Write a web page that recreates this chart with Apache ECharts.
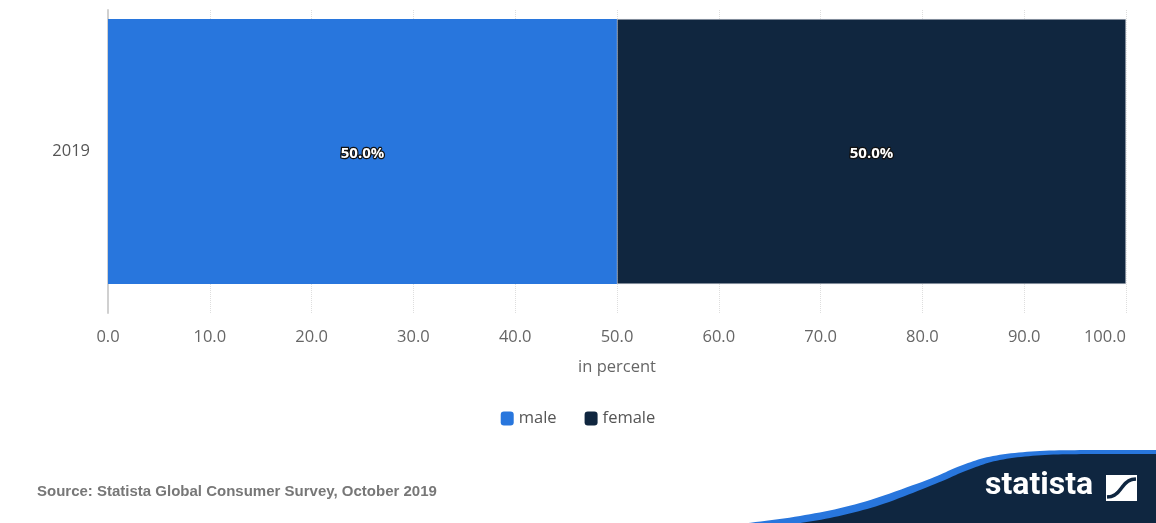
<!DOCTYPE html>
<html><head><meta charset="utf-8">
<script src="https://cdn.jsdelivr.net/npm/echarts@6/dist/echarts.min.js"></script>
<style>html,body{margin:0;padding:0;background:#fff}#c{width:1156px;height:523px}</style>
</head><body><div id="c"></div>
<script>
const categories = ['2019'];
const maleValues = [50.0];
const femaleValues = [50.0];
const seriesNames = ['male', 'female'];
const axisName = 'in percent';
const sourceText = 'Source: Statista Global Consumer Survey, October 2019';

// decorative logo banner helpers (not data)
function catmull(pts, n) {
  const out = [pts[0]];
  for (let i = 0; i < pts.length - 1; i++) {
    const p0 = pts[Math.max(0, i - 1)], p1 = pts[i], p2 = pts[i + 1], p3 = pts[Math.min(pts.length - 1, i + 2)];
    for (let k = 1; k <= n; k++) {
      const t = k / n, t2 = t * t, t3 = t2 * t;
      const f = j => 0.5 * ((2 * p1[j]) + (-p0[j] + p2[j]) * t + (2 * p0[j] - 5 * p1[j] + 4 * p2[j] - p3[j]) * t2 + (-p0[j] + 3 * p1[j] - 3 * p2[j] + p3[j]) * t3);
      out.push([f(0), f(1)]);
    }
  }
  return out;
}
const blueEdge = [[740, 524], [800, 516], [860, 503], [927, 480], [960, 466], [993, 456], [1040, 451], [1100, 450], [1156, 450]];
const darkEdge = [[780, 526], [830, 518], [880, 505], [935, 484], [968, 470], [1000, 460], [1045, 455], [1100, 454], [1156, 454]];
const closeShape = pts => catmull(pts, 12).concat([[1156, 523], [740, 526]]);
function iconCurve() {
  const out = [];
  const p0 = [1107, 497], p1 = [1122, 497], p2 = [1121, 479], p3 = [1136, 479];
  for (let i = 0; i <= 20; i++) {
    const t = i / 20, u = 1 - t;
    out.push([u*u*u*p0[0] + 3*u*u*t*p1[0] + 3*u*t*t*p2[0] + t*t*t*p3[0],
              u*u*u*p0[1] + 3*u*u*t*p1[1] + 3*u*t*t*p2[1] + t*t*t*p3[1]]);
  }
  return out;
}

const chart = echarts.init(document.getElementById('c'));
const FONT = 'Open Sans, sans-serif';
const labelCfg = {
  show: true, position: 'inside', color: '#fff', fontWeight: 'bold', fontSize: 15,
  fontFamily: FONT, textBorderColor: '#111', textBorderWidth: 2.5, offset: [0, 2],
  formatter: p => p.value.toFixed(1) + '%'
};
chart.setOption({
  animation: false,
  backgroundColor: '#fff',
  grid: [
    { left: 108, right: 30, top: 10, bottom: 210 },
    { left: 108, right: 30, top: 19, bottom: 239 }
  ],
  legend: {
    data: seriesNames, left: 'center', top: 405, itemWidth: 13, itemHeight: 14, itemGap: 28,
    icon: 'roundRect', itemStyle: { borderWidth: 0 },
    textStyle: { color: '#555', fontSize: 16.5, fontFamily: FONT }
  },
  xAxis: [{
    gridIndex: 0, type: 'value', min: 0, max: 100, interval: 10,
    name: axisName, nameLocation: 'middle', nameGap: 46,
    nameTextStyle: { color: '#666', fontSize: 16.5, fontFamily: FONT },
    axisLine: { show: false }, axisTick: { show: false },
    axisLabel: { color: '#666', fontSize: 16.5, margin: 16, fontFamily: FONT, alignMaxLabel: 'right',
      formatter: v => v.toFixed(1) },
    splitLine: { show: true, lineStyle: { color: '#dedede', type: 'dotted', width: 1 } }
  }, {
    gridIndex: 1, type: 'value', min: 0, max: 100, interval: 10, show: false
  }],
  yAxis: [{
    gridIndex: 0, type: 'category', data: categories,
    axisLine: { show: true, lineStyle: { color: '#d0d0d0', width: 2 } },
    axisTick: { show: false }, axisLabel: { show: false }
  }, {
    gridIndex: 1, type: 'category', data: categories,
    axisLine: { show: false }, axisTick: { show: false },
    axisLabel: { color: '#555', fontSize: 16.5, margin: 18, fontFamily: FONT, padding: [4, 0, 0, 0] }
  }],
  series: [
    { name: seriesNames[0], type: 'bar', stack: 'a', data: maleValues, barCategoryGap: '0%',
      xAxisIndex: 1, yAxisIndex: 1,
      itemStyle: { color: '#2876dd', borderWidth: 0 }, label: labelCfg },
    { name: seriesNames[1], type: 'bar', stack: 'a', data: femaleValues,
      xAxisIndex: 1, yAxisIndex: 1,
      itemStyle: { color: '#10263f', borderColor: '#d8dde3', borderWidth: 0.5 }, label: labelCfg }
  ],
  graphic: [
    { type: 'text', left: 37, top: 484, style: { text: sourceText, fill: '#777', fontSize: 15,
      fontWeight: 'bold', fontFamily: 'Liberation Sans, Arial, sans-serif' } },
    { type: 'polygon', shape: { points: closeShape(blueEdge) }, style: { fill: '#2876dd' } },
    { type: 'polygon', shape: { points: closeShape(darkEdge) }, style: { fill: '#0f2640' } },
    { type: 'text', left: 985, top: 470, style: { text: 'statista', fill: '#fff', fontSize: 32,
      fontWeight: 'bold', fontFamily: 'Liberation Sans Narrow, Roboto, sans-serif' } },
    { type: 'rect', shape: { x: 1106, y: 475, width: 31, height: 26 }, style: { fill: '#fff' } },
    { type: 'polyline', shape: { points: iconCurve() }, style: { stroke: '#0f2640', lineWidth: 3.5, fill: null } }
  ]
});
</script></body></html>
